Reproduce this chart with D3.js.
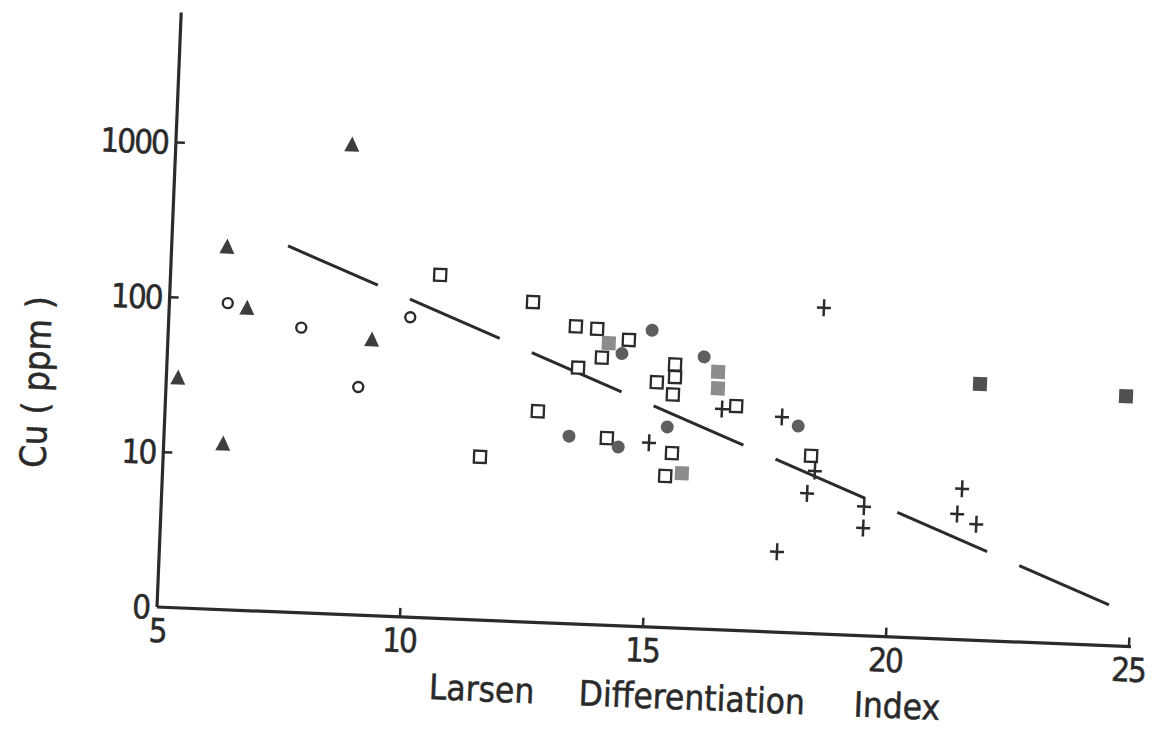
<!DOCTYPE html>
<html>
<head>
<meta charset="utf-8">
<script src="https://cdn.jsdelivr.net/npm/d3@7"></script>
<style>
  body { margin: 0; background: #fff; }
  text { font-family: "DejaVu Sans Condensed", "DejaVu Sans", sans-serif; fill: #2a2a2a; stroke: #2a2a2a; stroke-width: 0.5; }
</style>
</head>
<body>
<svg id="chart" width="1151" height="731"></svg>
<script>
// values: [Larsen index, Cu ppm]
var triangles = [[5.24, 30.3], [6.14, 218], [8.62, 1070], [6.60, 89], [9.19, 60], [6.22, 11.7]];
var openCircles = [[6.20, 95], [7.73, 69], [8.95, 29.6], [9.96, 86]];
var openSquares = [[10.54, 164], [12.47, 116], [13.37, 83], [13.81, 81], [14.47, 70], [13.93, 53],
    [13.45, 45], [15.44, 50], [15.45, 41.5], [15.08, 38], [15.42, 32], [12.66, 23], [16.73, 28],
    [14.10, 16.1], [15.45, 13.4], [15.33, 9.5], [11.51, 11.3], [18.31, 14.0]];
var lightSquares = [[14.06, 66], [16.33, 46], [16.34, 36], [15.67, 10.0]];
var darkSquares = [[21.72, 45], [24.73, 41]];
var filledCircles = [[14.94, 82], [16.03, 57], [14.34, 57], [13.32, 16.2], [14.34, 14.2], [15.33, 19.7], [18.02, 21.6]];
var crosses = [[14.97, 15.4], [16.44, 26.6], [17.68, 24.5], [18.45, 127], [18.40, 11.2], [18.26, 8.0],
    [19.44, 6.8], [19.44, 4.95], [17.69, 3.3], [21.44, 9.4], [21.36, 6.45], [21.76, 5.6]];
var trendLine = [[7.39, 230], [24.66, 1.78]];

var xTicks = [5, 10, 15, 20, 25];
var yTicks = [1, 10, 100, 1000];
var yTickLabels = ["0", "10", "100", "1000"];
var titleWords = ["Larsen", "Differentiation", "Index"];

var ink = "#2b2b2b";

var svg = d3.select("#chart");

// the scanned figure is tilted a little, so the whole plot is rotated
var g = svg.append("g")
    .attr("transform", "translate(157,607) rotate(2.33)");

var x = d3.scaleLinear().domain([5, 25]).range([0, 972.8]);
var y = d3.scaleLog().domain([1, Math.pow(10, 595 / 155)]).range([0, -595]);

// axes
g.append("line")
    .attr("x1", 0).attr("y1", y.range()[1])
    .attr("x2", 0).attr("y2", 0)
    .attr("stroke", ink).attr("stroke-width", 3.2);
g.append("line")
    .attr("x1", 0).attr("y1", 0)
    .attr("x2", x(25) + 2).attr("y2", 0)
    .attr("stroke", ink).attr("stroke-width", 3.2);

g.selectAll(".xtick").data(xTicks.slice(1)).enter()
    .append("line")
    .attr("x1", d => x(d)).attr("x2", d => x(d))
    .attr("y1", 0).attr("y2", -9)
    .attr("stroke", ink).attr("stroke-width", 2.5);

g.selectAll(".xlab").data(xTicks).enter()
    .append("text")
    .attr("x", d => x(d) + (d === 5 ? 1 : 0))
    .attr("y", 35)
    .attr("text-anchor", "middle")
    .attr("font-size", 33)
    .attr("letter-spacing", -2)
    .text(d => d);

g.selectAll(".ytick").data(yTicks.slice(1)).enter()
    .append("line")
    .attr("x1", 0).attr("x2", 9)
    .attr("y1", d => y(d)).attr("y2", d => y(d))
    .attr("stroke", ink).attr("stroke-width", 2.5);

g.selectAll(".ylab").data(yTicks).enter()
    .append("text")
    .attr("x", -8)
    .attr("y", d => y(d) + 12)
    .attr("text-anchor", "end")
    .attr("font-size", 33)
    .attr("letter-spacing", -2)
    .text((d, i) => yTickLabels[i]);

var title = g.append("text")
    .attr("y", 81)
    .attr("font-size", 35);
title.selectAll("tspan").data(titleWords).enter()
    .append("tspan")
    .attr("x", (d, i) => [275, 425, 700][i])
    .text(d => d);

g.append("text")
    .attr("transform", "translate(-130,-220) rotate(-90)")
    .attr("dy", "0.35em")
    .attr("text-anchor", "middle")
    .attr("font-size", 36)
    .text("Cu ( ppm )");

// dashed trend line
g.append("line")
    .attr("x1", x(trendLine[0][0])).attr("y1", y(trendLine[0][1]))
    .attr("x2", x(trendLine[1][0])).attr("y2", y(trendLine[1][1]))
    .attr("stroke", ink).attr("stroke-width", 3)
    .attr("stroke-dasharray", "98,35");

// markers
g.selectAll(".tri").data(triangles).enter()
    .append("path")
    .attr("transform", d => "translate(" + x(d[0]) + "," + y(d[1]) + ")")
    .attr("d", "M0,-8.5L7.5,6.5L-7.5,6.5Z")
    .attr("fill", "#3d3d3d");

g.selectAll(".ocirc").data(openCircles).enter()
    .append("circle")
    .attr("cx", d => x(d[0])).attr("cy", d => y(d[1]))
    .attr("r", 5)
    .attr("fill", "none").attr("stroke", ink).attr("stroke-width", 2.4);

g.selectAll(".osq").data(openSquares).enter()
    .append("rect")
    .attr("x", d => x(d[0]) - 6).attr("y", d => y(d[1]) - 6)
    .attr("width", 12).attr("height", 12)
    .attr("fill", "#fff").attr("stroke", ink).attr("stroke-width", 2.3);

g.selectAll(".lsq").data(lightSquares).enter()
    .append("rect")
    .attr("x", d => x(d[0]) - 7).attr("y", d => y(d[1]) - 7)
    .attr("width", 14).attr("height", 14)
    .attr("fill", "#8c8c8c");

g.selectAll(".dsq").data(darkSquares).enter()
    .append("rect")
    .attr("x", d => x(d[0]) - 7).attr("y", d => y(d[1]) - 7)
    .attr("width", 14).attr("height", 14)
    .attr("fill", "#505050");

g.selectAll(".fcirc").data(filledCircles).enter()
    .append("circle")
    .attr("cx", d => x(d[0])).attr("cy", d => y(d[1]))
    .attr("r", 6.5)
    .attr("fill", "#5e5e5e");

g.selectAll(".cross").data(crosses).enter()
    .append("path")
    .attr("transform", d => "translate(" + x(d[0]) + "," + y(d[1]) + ")")
    .attr("d", "M-7,0H7M0,-8.5V8.5")
    .attr("stroke", ink).attr("stroke-width", 2.5)
    .attr("fill", "none");
</script>
</body>
</html>
